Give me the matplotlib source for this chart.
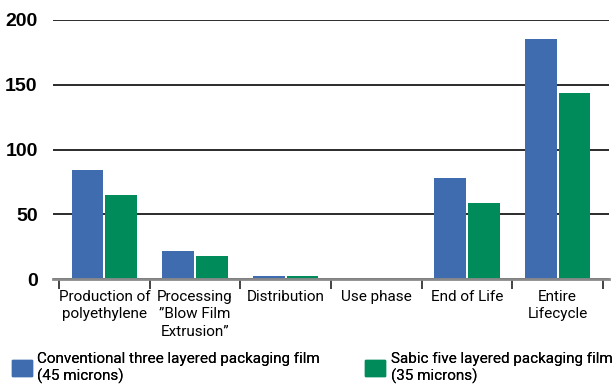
import numpy as np
import matplotlib.pyplot as plt
from matplotlib.patches import Patch

categories = ["Production of\npolyethylene", "Processing\n\u201dBlow Film\nExtrusion\u201d",
              "Distribution", "Use phase", "End of Life", "Entire\nLifecycle"]
conventional = [84, 21.5, 2.3, 0, 77.7, 185]
sabic = [65, 17.7, 2.3, 0, 58.5, 144]
series_names = ["Conventional three layered packaging film\n(45 microns)",
                "Sabic five layered packaging film\n(35 microns)"]

blue = "#3F6CAF"
green = "#008C5A"
narrow = ["Roboto", "DejaVu Sans"]

fig = plt.figure(figsize=(6.14, 3.85), dpi=100)
ax = fig.add_axes([53 / 614, 106 / 385, 556 / 614, 259 / 385])

x = np.arange(len(categories))
w = 0.35
ax.bar(x - w / 2 - 0.01, conventional, w, color=blue, zorder=3)
ax.bar(x + w / 2 + 0.01, sabic, w, color=green, zorder=3)

ax.set_ylim(0, 200)
ax.set_xlim(-0.566, 5.566)
ax.set_yticks([0, 50, 100, 150, 200])
ax.yaxis.grid(True, color="#1a1a1a", linewidth=1.3, zorder=0)
for s in ["top", "right", "left"]:
    ax.spines[s].set_visible(False)
ax.spines["bottom"].set_color("#8a8a8a")
ax.spines["bottom"].set_linewidth(2)
ax.spines["bottom"].set_zorder(4)
ax.tick_params(axis="y", length=0, pad=11)
for lab in ax.get_yticklabels():
    lab.set_fontweight("bold")
    lab.set_fontsize(14)
    lab.set_family("Liberation Sans")

ax.set_xticks(x)
ax.set_xticklabels(categories, family=narrow, fontsize=11, linespacing=1.3)
ax.set_xticks(np.arange(-0.5, 6, 1), minor=True)
ax.tick_params(axis="x", which="major", length=0, pad=8)
ax.tick_params(axis="x", which="minor", length=7, width=1.2, color="#222222")

handles = [Patch(color=blue), Patch(color=green)]
for h, name, xpos in zip(handles, series_names, [0.015, 0.59]):
    leg = fig.legend(handles=[h], labels=[name], loc="lower left", bbox_to_anchor=(xpos, -0.005),
                     frameon=False, prop={"family": narrow, "size": 11}, handlelength=1.3,
                     handleheight=1.3, handletextpad=0.35, borderaxespad=0, borderpad=0.2)
    for t in leg.get_texts():
        t.set_linespacing(1.25)
    fig.add_artist(leg)

fig.savefig("out.png", dpi=100)
